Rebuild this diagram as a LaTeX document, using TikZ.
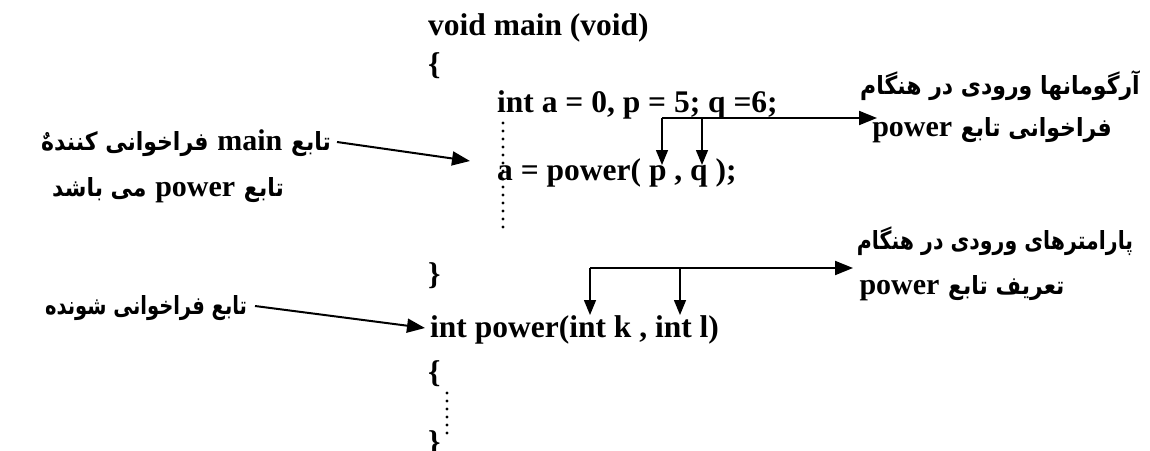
\documentclass[tikz,border=0pt]{standalone}
\usepackage{fontspec}
\setmainfont{Liberation Serif}
\newfontfamily\fa[Script=Arabic]{DejaVu Sans}
\usetikzlibrary{arrows.meta}
\TeXXeTstate=1
\newcommand\lat[1]{{\fontsize{30}{30}\selectfont\rmfamily\bfseries #1}}
\newcommand\ar[2][0.88]{\scalebox{#1}[1]{\beginR #2\endR}}
\tikzset{
  code/.style={anchor=base west, inner sep=0pt, font=\fontsize{31.5}{36}\selectfont\bfseries},
  lbl/.style={anchor=mid, inner sep=0pt, font=\fontsize{25}{28}\selectfont\fa\bfseries},
  arr/.style={line width=2pt, -{Triangle[length=18pt,width=14pt]}},
  varr/.style={line width=1.5pt, -{Triangle[length=15pt,width=12pt]}},
  dots/.style={line width=3.4pt, line cap=round, dash pattern=on 0pt off 8pt},
}
\begin{document}
\begin{tikzpicture}[x=1pt,y=-1pt]
\useasboundingbox (0,0) rectangle (1150,450);
% code
\node[code] (l1) at (428,35) {void main (void)};
\node[code] (l2) at (428,74) {\{};
\node[code] (l3) at (497,112) {int a = 0, p = 5; q =6;};
\node[code] (l4) at (497,180) {a = power( p , q );};
\node[code] (l5) at (428,284) {\}};
\node[code] (l6) at (430,337) {int power(int k , int l)};
\node[code] (l7) at (428,382) {\{};
\node[code] (l8) at (428,452) {\}};
% dotted lines
\coordinate (d1a) at (503,123); \coordinate (d1b) at (503,230);
\draw[dots] (d1a) -- (d1b);
\coordinate (d2a) at (447,393); \coordinate (d2b) at (447,433);
\draw[dots] (d2a) -- (d2b);
% labels (Persian chunks right-to-left, placed in visual order)
\node[lbl] (c1) at (186,148) {\ar{فراخوانی کنندهٌ} \lat{main} \ar{تابع}};
\node[lbl] (c2) at (168,194) {\ar{می باشد} \lat{power} \ar{تابع}};
\node[lbl] (c3) at (146,312) {\ar[0.78]{تابع فراخوانی شونده}};
\node[lbl] (a1) at (1000,92) {\ar{آرگومانها ورودی در هنگام}};
\node[lbl] (a2) at (992,134) {\lat{power} \ar{فراخوانی تابع}};
\node[lbl] (b1) at (995,247) {\ar[0.82]{پارامترهای ورودی در هنگام}};
\node[lbl] (b2) at (962,292) {\lat{power} \ar{تعریف تابع}};
% arrows from left labels
\coordinate (m1) at (337,142); \coordinate (m2) at (470,161);
\draw[arr] (m1) -- (m2);
\coordinate (n1) at (255,306); \coordinate (n2) at (425,328);
\draw[arr] (n1) -- (n2);
% top bracket
\coordinate (t0) at (662,118); \coordinate (t1) at (702,118); \coordinate (t2) at (877,118);
\coordinate (tp) at (662,165); \coordinate (tq) at (702,165);
\draw[arr] (t0) -- (t2);
\draw[varr] (t0) -- (tp);
\draw[varr] (t1) -- (tq);
% bottom bracket
\coordinate (b0) at (590,268); \coordinate (bm) at (680,268); \coordinate (be) at (853,268);
\coordinate (bk) at (590,315); \coordinate (bl) at (680,315);
\draw[arr] (b0) -- (be);
\draw[varr] (b0) -- (bk);
\draw[varr] (bm) -- (bl);
\end{tikzpicture}
\end{document}
